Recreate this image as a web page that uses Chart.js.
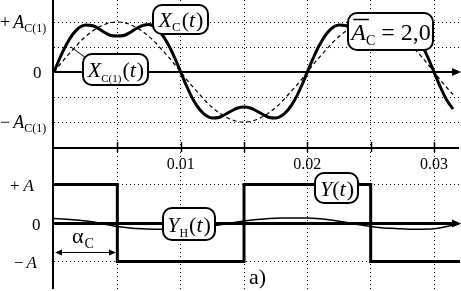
<!DOCTYPE html>
<html><head><meta charset="utf-8">
<script src="https://cdn.jsdelivr.net/npm/chart.js@4.4.1/dist/chart.umd.min.js"></script>
<style>html,body{margin:0;padding:0;background:#fff;overflow:hidden}#wrap{width:461px;height:291px;position:relative}canvas{display:block}</style>
</head><body><div id="wrap"><canvas id="c" width="461" height="291"></canvas></div>
<script>
// ---- data ----
// sample times (s) for the upper curves
const sampleTimes = [0,0.0005,0.001,0.0015,0.002,0.0025,0.003,0.0035,0.004,0.0045,0.005,0.0055,0.006,0.0065,0.007,0.0075,0.008,0.0085,0.009,0.0095,
  0.01,0.0105,0.011,0.0115,0.012,0.0125,0.013,0.0135,0.014,0.0145,0.015,0.0155,0.016,0.0165,0.017,0.0175,0.018,0.0185,0.019,0.0195,
  0.02,0.0205,0.021,0.0215,0.022,0.0225,0.023,0.0235,0.024,0.0245,0.025,0.0255,0.026,0.0265,0.027,0.0275,0.028,0.0285,0.029,0.0295,
  0.03,0.0305,0.031,0.0315];
// X_C(t), in units of A_C(1)
const xcValues = [0,0.30,0.56,0.76,0.89,0.94,0.93,0.87,0.79,0.73,0.72,0.73,0.79,0.87,0.93,0.95,0.89,0.76,0.56,0.30,
  0,-0.30,-0.56,-0.75,-0.87,-0.92,-0.91,-0.85,-0.78,-0.72,-0.70,-0.72,-0.78,-0.85,-0.91,-0.92,-0.87,-0.75,-0.56,-0.30,
  0,0.30,0.56,0.76,0.89,0.94,0.93,0.87,0.79,0.73,0.72,0.73,0.79,0.87,0.93,0.94,0.89,0.76,0.56,0.30,
  0,-0.30,-0.56,-0.74];
// X_C(1)(t), first harmonic
const xc1Values = [0,0.16,0.31,0.45,0.59,0.71,0.81,0.89,0.95,0.99,1.00,0.99,0.95,0.89,0.81,0.71,0.59,0.45,0.31,0.16,
  0,-0.16,-0.31,-0.45,-0.59,-0.71,-0.81,-0.89,-0.95,-0.99,-1.00,-0.99,-0.95,-0.89,-0.81,-0.71,-0.59,-0.45,-0.31,-0.16,
  0,0.16,0.31,0.45,0.59,0.71,0.81,0.89,0.95,0.99,1.00,0.99,0.95,0.89,0.81,0.71,0.59,0.45,0.31,0.16,
  0,-0.16,-0.31,-0.45];
// Y(t) switching instants and levels (units of A)
const yTimes = [0,0.005,0.015,0.025,0.0325];
const yLevels = [1,-1,1,-1,-1];
// Y_H(t)
const yhTimes = [0,0.001,0.002,0.003,0.004,0.005,0.006,0.007,0.008,0.009,0.01,0.011,0.012,0.013,0.014,0.015,0.016,
  0.017,0.018,0.019,0.02,0.021,0.022,0.023,0.024,0.025,0.026,0.027,0.028,0.029,0.03,0.031,0.032];
const yhValues = [0.12,0.10,0.07,0.03,-0.03,-0.09,-0.13,-0.15,-0.16,-0.16,-0.15,-0.13,-0.10,-0.05,0.00,0.05,0.09,
  0.12,0.13,0.13,0.13,0.11,0.07,0.02,-0.04,-0.09,-0.13,-0.14,-0.16,-0.16,-0.15,-0.09,-0.02];
// grid / tick positions and labels
const gridTimes = [0.005,0.01,0.015,0.02,0.025,0.03];
const xTickValues = [0.01,0.02,0.03];
const xTickLabels = ['0.01','0.02','0.03'];

// ---- chart ----
const SERIF = '"Liberation Serif", "Times New Roman", serif';
const pts = (xs, ys) => xs.map((t, i) => ({x: t, y: ys[i]}));

function rrect(ctx, x, y, w, h, r) {
  ctx.beginPath();
  ctx.moveTo(x + r, y);
  ctx.arcTo(x + w, y, x + w, y + h, r);
  ctx.arcTo(x + w, y + h, x, y + h, r);
  ctx.arcTo(x, y + h, x, y, r);
  ctx.arcTo(x, y, x + w, y, r);
  ctx.closePath();
}
function runs(ctx, x, y, parts, align) {
  let w = 0;
  parts.forEach(p => { ctx.font = p.f; p.w = ctx.measureText(p.t).width; w += p.w + (p.gap || 0); });
  let cx = align === 'center' ? x - w / 2 : x;
  const out = [];
  parts.forEach(p => {
    ctx.font = p.f; ctx.textAlign = 'left'; ctx.textBaseline = 'alphabetic';
    ctx.fillText(p.t, cx, y + (p.dy || 0));
    out.push({x: cx, w: p.w});
    cx += p.w + (p.gap || 0);
  });
  return out;
}
function arrowHead(ctx, tipX, y, dir, len, half) {
  ctx.beginPath();
  ctx.moveTo(tipX, y);
  ctx.lineTo(tipX - dir * len, y - half);
  ctx.lineTo(tipX - dir * len, y + half);
  ctx.closePath();
  ctx.fill();
}

const it = s => 'italic ' + s + 'px ' + SERIF;
const rm = s => s + 'px ' + SERIF;

const overlay = {
  id: 'overlay',
  beforeDatasetsDraw(chart) {
    const ctx = chart.ctx, xs = chart.scales.x, yt = chart.scales.y, yb = chart.scales.y2;
    const left = chart.chartArea.left - 1;
    ctx.save();
    ctx.strokeStyle = '#000'; ctx.fillStyle = '#000'; ctx.setLineDash([]);
    // left axis
    ctx.lineWidth = 2;
    ctx.beginPath(); ctx.moveTo(left, 0); ctx.lineTo(left, 289); ctx.stroke();
    // top zero line with arrow
    const z1 = Math.round(yt.getPixelForValue(0));
    ctx.beginPath(); ctx.moveTo(left, z1); ctx.lineTo(453, z1); ctx.stroke();
    arrowHead(ctx, 461, z1, 1, 9, 4);
    // separating time axis
    const mid = Math.round(yt.getPixelForValue(-1.52));
    ctx.beginPath(); ctx.moveTo(left, mid); ctx.lineTo(459, mid); ctx.stroke();
    ctx.lineWidth = 1.5;
    gridTimes.forEach(t => {
      const px = Math.round(xs.getPixelForValue(t)) + 0.5;
      ctx.beginPath(); ctx.moveTo(px, mid - 6); ctx.lineTo(px, mid + 4); ctx.stroke();
    });
    // bottom zero line with arrow
    const z2 = Math.round(yb.getPixelForValue(0)) + 0.5;
    ctx.lineWidth = 3;
    ctx.beginPath(); ctx.moveTo(left, z2); ctx.lineTo(453, z2); ctx.stroke();
    arrowHead(ctx, 461, z2, 1, 9, 4);
    // x tick labels
    ctx.font = rm(16); ctx.textAlign = 'center'; ctx.textBaseline = 'alphabetic';
    xTickValues.forEach((v, i) => ctx.fillText(xTickLabels[i], xs.getPixelForValue(v), mid + 21));
    // y labels, upper panel
    const p1 = yt.getPixelForValue(1), m1 = yt.getPixelForValue(-1);
    runs(ctx, 0, p1 + 6, [{t: '+', f: rm(18), gap: 3}, {t: 'A', f: it(18)}, {t: 'C(1)', f: rm(12), dy: 4}]);
    ctx.font = rm(17); ctx.textAlign = 'left'; ctx.fillText('0', 33, z1 + 6);
    runs(ctx, 0, m1 + 6, [{t: '\u2212', f: rm(18), gap: 3}, {t: 'A', f: it(18)}, {t: 'C(1)', f: rm(12), dy: 4}]);
    // y labels, lower panel
    const q1 = yb.getPixelForValue(1), n1 = yb.getPixelForValue(-1);
    runs(ctx, 10, q1 + 6, [{t: '+', f: rm(17), gap: 4}, {t: 'A', f: it(17)}]);
    ctx.font = rm(17); ctx.textAlign = 'left'; ctx.fillText('0', 32, z2 + 6);
    runs(ctx, 14, n1 + 6, [{t: '\u2212', f: rm(17), gap: 3}, {t: 'A', f: it(17)}]);
    ctx.restore();
  },
  afterDatasetsDraw(chart) {
    const ctx = chart.ctx;
    ctx.save();
    ctx.strokeStyle = '#000'; ctx.fillStyle = '#000'; ctx.setLineDash([]);
    // leader for X_C(1)(t)
    ctx.lineWidth = 1;
    ctx.beginPath(); ctx.moveTo(71, 47); ctx.lineTo(86, 58); ctx.stroke();
    const box = (cx, cy, w, h) => {
      rrect(ctx, cx - w / 2, cy - h / 2, w, h, 9);
      ctx.fillStyle = '#fff'; ctx.fill();
      ctx.lineWidth = 2; ctx.strokeStyle = '#000'; ctx.stroke();
      ctx.fillStyle = '#000';
    };
    // X_C(t)
    box(180.5, 19.5, 55, 29);
    runs(ctx, 181, 27, [{t: 'X', f: it(22)}, {t: 'C', f: rm(13), dy: 4, gap: 1}, {t: '(', f: rm(22)}, {t: 't', f: it(22), gap: 1}, {t: ')', f: rm(22)}], 'center');
    // X_C(1)(t)
    box(115.5, 69.5, 65, 31);
    runs(ctx, 116, 77, [{t: 'X', f: it(22)}, {t: 'C(1)', f: rm(11), dy: 5, gap: 1}, {t: '(', f: rm(22)}, {t: 't', f: it(22), gap: 1}, {t: ')', f: rm(22)}], 'center');
    // A_C = 2,0
    box(390.5, 31.5, 85, 37);
    const r = runs(ctx, 391, 40, [{t: 'A', f: it(24)}, {t: 'C', f: rm(14), dy: 5}, {t: ' = 2,0', f: rm(24)}], 'center');
    ctx.lineWidth = 1.5;
    ctx.beginPath(); ctx.moveTo(r[0].x + 2, 19.5); ctx.lineTo(r[0].x + r[0].w + 3, 19.5); ctx.stroke();
    // Y(t)
    box(336.5, 188, 43, 30);
    runs(ctx, 337, 196, [{t: 'Y', f: it(22)}, {t: '(', f: rm(22)}, {t: 't', f: it(22), gap: 1}, {t: ')', f: rm(22)}], 'center');
    // Y_H(t)
    box(189, 224, 52, 32);
    runs(ctx, 189, 232, [{t: 'Y', f: it(22)}, {t: 'H', f: rm(12), dy: 5, gap: 1}, {t: '(', f: rm(22)}, {t: 't', f: it(22), gap: 1}, {t: ')', f: rm(22)}], 'center');
    // alpha_C with double arrow
    ctx.lineWidth = 1;
    ctx.beginPath(); ctx.moveTo(58, 252.5); ctx.lineTo(112, 252.5); ctx.stroke();
    arrowHead(ctx, 55, 252.5, -1, 7, 3);
    arrowHead(ctx, 116, 252.5, 1, 7, 3);
    runs(ctx, 72, 243, [{t: '\u03B1', f: rm(22), gap: 1}, {t: 'C', f: rm(14), dy: 5}]);
    // a)
    ctx.font = rm(22); ctx.textAlign = 'left'; ctx.textBaseline = 'alphabetic';
    ctx.fillText('a)', 249, 284);
    ctx.restore();
  }
};

const dotted = {drawTicks: false, color: '#000', lineWidth: 1};
new Chart(document.getElementById('c'), {
  type: 'line',
  data: {
    datasets: [
      {label: 'X_C(t)', data: pts(sampleTimes, xcValues), yAxisID: 'y', borderColor: '#000', borderWidth: 3,
        pointRadius: 0, cubicInterpolationMode: 'monotone', fill: false},
      {label: 'Y(t)', data: pts(yTimes, yLevels), yAxisID: 'y2', borderColor: '#000', borderWidth: 3,
        pointRadius: 0, stepped: 'before', fill: false},
      {label: 'Y_H(t)', data: pts(yhTimes, yhValues), yAxisID: 'y2', borderColor: '#000', borderWidth: 1.5,
        pointRadius: 0, cubicInterpolationMode: 'monotone', fill: false},
      {label: 'X_C(1)(t)', data: pts(sampleTimes, xc1Values), yAxisID: 'y', borderColor: '#000', borderWidth: 1.2,
        borderDash: [4, 3], pointRadius: 0, cubicInterpolationMode: 'monotone', fill: false}
    ]
  },
  options: {
    responsive: false, animation: false, devicePixelRatio: 1, events: [],
    layout: {padding: {left: 54, right: 1, top: 0, bottom: 0}},
    plugins: {legend: {display: false}, tooltip: {enabled: false}},
    scales: {
      x: {type: 'linear', min: 0, max: 0.03205, ticks: {display: false}, grid: dotted,
        border: {display: false, dash: [1, 3]},
        afterBuildTicks: s => { s.ticks = gridTimes.map(v => ({value: v})); }},
      y: {type: 'linear', position: 'left', min: -4.38, max: 1.44, ticks: {display: false}, grid: dotted,
        border: {display: false, dash: [1, 3]},
        afterBuildTicks: s => { s.ticks = [-1, -0.5, 0.5, 1].map(v => ({value: v})); }},
      y2: {type: 'linear', position: 'left', min: -1.766, max: 5.792, ticks: {display: false}, grid: dotted,
        border: {display: false, dash: [1, 3]},
        afterBuildTicks: s => { s.ticks = [-1, 1].map(v => ({value: v})); }}
    }
  },
  plugins: [overlay]
});
</script></body></html>
